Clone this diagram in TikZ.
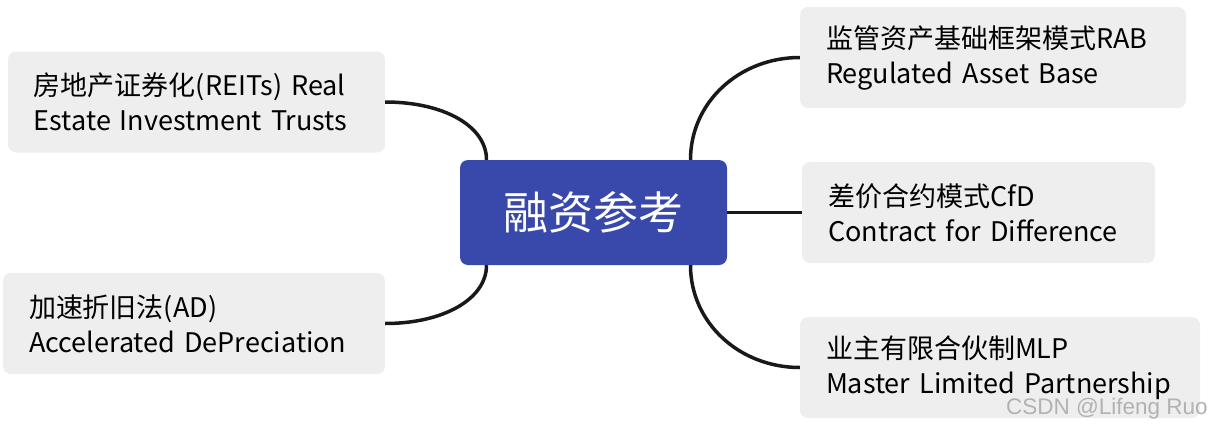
\documentclass[tikz,border=0pt]{standalone}
\usepackage{fontspec}
\newfontfamily\cjk{Noto Sans CJK SC}
\newfontfamily\markfont{Liberation Sans}
\definecolor{hubblue}{HTML}{3949AB}
\definecolor{boxgray}{HTML}{EEEEEE}
\begin{document}
\begin{tikzpicture}[x=1pt, y=1pt,
  topic/.style={fill=boxgray, rounded corners=8pt, minimum height=101pt, inner xsep=26pt, inner ysep=4pt, align=left, font=\cjk\fontsize{27}{35}\selectfont},
  hub/.style={fill=hubblue, text=white, rounded corners=8pt, minimum width=267pt, minimum height=105pt, font=\cjk\fontsize{45}{50}\selectfont},
  link/.style={line width=3.5pt, black!90}]
\useasboundingbox (0,0) rectangle (1211,-429);
% center
\node[hub] (ctr) at (593.5,-212.5) {融资参考};
% left side
\node[topic, text width=325pt] (reits) at (196.5,-102) {房地产证券化(REITs) Real\\Estate Investment Trusts};
\node[topic, text width=330pt] (ad) at (194,-323.5) {加速折旧法(AD)\\Accelerated DePreciation};
% right side
\node[topic, text width=334pt] (rab) at (993,-57.5) {监管资产基础框架模式RAB\\Regulated Asset Base};
\node[topic, text width=301pt] (cfd) at (978.5,-212.5) {差价合约模式CfD\\Contract for Difference};
\node[topic, text width=348pt] (mlp) at (1000,-367.5) {业主有限合伙制MLP\\Master Limited Partnership};
% connectors
\draw[link] ([xshift=-107pt]ctr.north) .. controls +(0,34) and +(58,0) .. (reits.east);
\draw[link] ([xshift=-107pt]ctr.south) .. controls +(0,-34) and +(58,0) .. (ad.east);
\draw[link] ([xshift=97pt]ctr.north) .. controls +(0,58) and +(-60,0) .. (rab.west);
\draw[link] (ctr.east) -- (cfd.west);
\draw[link] ([xshift=97pt]ctr.south) .. controls +(0,-58) and +(-60,0) .. (mlp.west);
% watermark
\node[anchor=base east, inner sep=0pt, text=black!30, font=\markfont\fontsize{22.5}{26}\selectfont] (mark) at (1208,-414) {CSDN @Lifeng Ruo};
\end{tikzpicture}
\end{document}
